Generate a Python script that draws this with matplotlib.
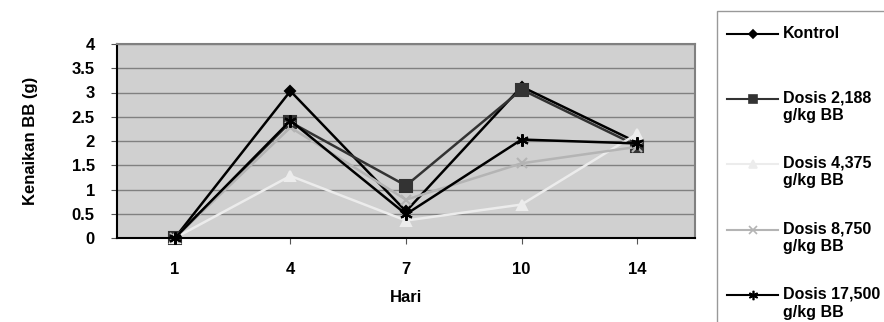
import matplotlib
matplotlib.use("Agg")
import matplotlib.pyplot as plt
from matplotlib.lines import Line2D
from matplotlib.patches import Rectangle

plt.rcParams['font.family'] = ['Liberation Sans', 'DejaVu Sans']
plt.rcParams['font.weight'] = 'bold'

# data
hari = ['1', '4', '7', '10', '14']
kontrol = [0, 3.03, 0.55, 3.12, 1.97]
dosis_2188 = [0, 2.39, 1.08, 3.06, 1.90]
dosis_4375 = [0, 1.28, 0.36, 0.69, 2.15]
dosis_8750 = [0, 2.28, 0.79, 1.54, 1.88]
dosis_17500 = [0, 2.42, 0.49, 2.03, 1.95]

labels = ['Kontrol', 'Dosis 2,188\ng/kg BB', 'Dosis 4,375\ng/kg BB',
          'Dosis 8,750\ng/kg BB', 'Dosis 17,500\ng/kg BB']
series = [kontrol, dosis_2188, dosis_4375, dosis_8750, dosis_17500]
warna = ['#000000', '#333333', '#ececec', '#b4b4b4', '#000000']
marker = ['D', 's', '^', 'x', (6, 2, 0)]
msize = [5, 8, 7, 7, 9]

fig = plt.figure(figsize=(8.84, 3.22), dpi=100)
ax = fig.add_axes([117/884, 1 - 238/322, 578/884, 194/322])
ax.set_facecolor('#d0d0d0')

x = list(range(len(hari)))
for y, c, m, s in zip(series, warna, marker, msize):
    ax.plot(x, y, color=c, marker=m, markersize=s, linewidth=1.8,
            markeredgecolor=c, markeredgewidth=1.5, clip_on=False)

ax.set_xlim(-0.5, len(hari) - 0.5)
ax.set_ylim(0, 4)
ax.set_yticks([0, 0.5, 1, 1.5, 2, 2.5, 3, 3.5, 4])
ax.set_yticklabels(['0', '0.5', '1', '1.5', '2', '2.5', '3', '3.5', '4'])
ax.set_xticks(x)
ax.set_xticklabels(hari)
ax.tick_params(labelsize=12, length=4, color='#555555')
ax.tick_params(axis='y', pad=12)
ax.tick_params(axis='x', pad=13)
ax.grid(axis='y', color='#808080', linewidth=1)
ax.set_axisbelow(True)
for s in ['left', 'bottom']:
    ax.spines[s].set_color('black')
    ax.spines[s].set_linewidth(1.5)
for s in ['top', 'right']:
    ax.spines[s].set_color('#808080')
    ax.spines[s].set_linewidth(1.5)

ax.set_xlabel('Hari', fontsize=12, fontweight='bold', va='center')
ax.xaxis.set_label_coords(0.5, (238 - 297) / 194)
ax.set_ylabel('Kenaikan BB (g)', fontsize=12, fontweight='bold', va='center')
ax.yaxis.set_label_coords((30 - 117) / 578, 0.5)

# legend box
fig.add_artist(Rectangle((717/884, -0.2), 1, 1.2 - 11/322, transform=fig.transFigure,
                         facecolor='white', edgecolor='#999999', linewidth=1))
ly = [34, 99, 164, 230, 295]
for lab, c, m, s, yy in zip(labels, warna, marker, msize, ly):
    yf = 1 - yy/322
    fig.add_artist(Line2D([727/884, 778/884], [yf, yf], transform=fig.transFigure,
                          color=c, linewidth=1.5))
    fig.add_artist(Line2D([752.5/884], [yf], transform=fig.transFigure, color=c,
                          marker=m, markersize=s*0.75, markeredgecolor=c,
                          markeredgewidth=1.2))
    fig.text(783/884, yf + 8.5/322, lab, fontsize=11.5, fontweight='bold',
             va='top', ha='left', linespacing=1.25)

fig.savefig('out.png', dpi=100)
